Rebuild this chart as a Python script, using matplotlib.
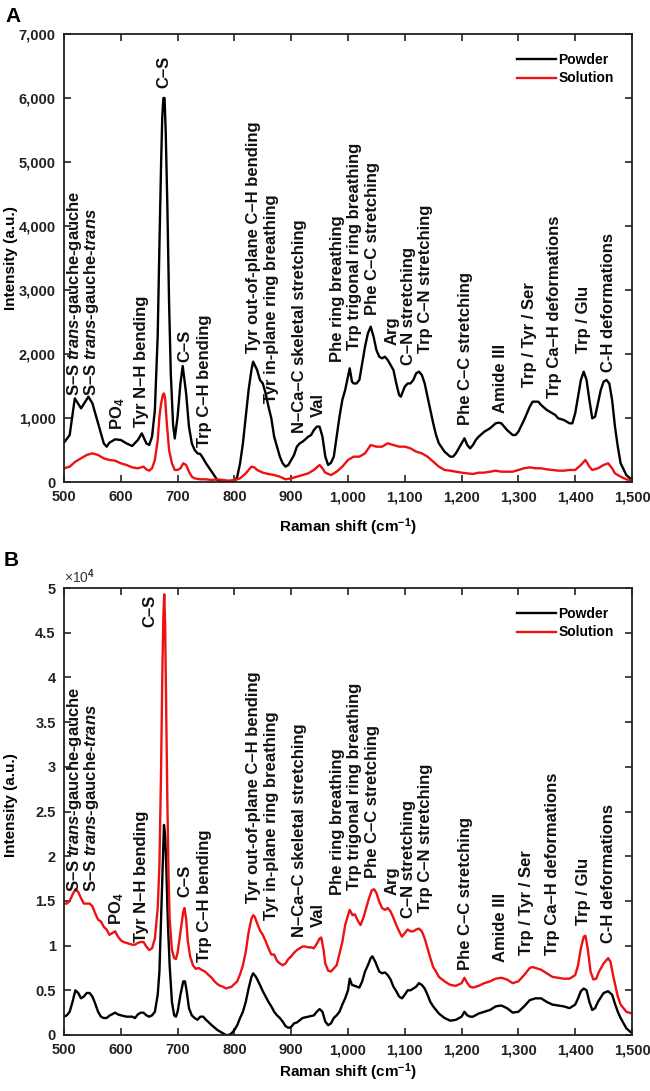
import matplotlib
matplotlib.use('Agg')
import matplotlib.pyplot as plt
from matplotlib.ticker import FuncFormatter

plt.rcParams['font.family'] = ['Liberation Sans', 'DejaVu Sans']
plt.rcParams['mathtext.fontset'] = 'custom'
plt.rcParams['mathtext.rm'] = 'Liberation Sans:bold'
plt.rcParams['mathtext.it'] = 'Liberation Sans:italic:bold'
plt.rcParams['mathtext.bf'] = 'Liberation Sans:bold'

# --- panel A : powder (raw counts) ---
a_powder_x = [500, 510, 519, 530, 543, 550, 560, 570, 575, 580, 590, 600, 610, 620, 630, 637, 645, 650, 655, 660,
              665, 668, 671, 673, 675, 677, 679, 682, 685, 688, 692, 695, 700, 705, 709, 715, 720, 725, 730, 735,
              740, 745, 750, 760, 770, 780, 790, 800, 805, 810, 815, 820, 825, 830, 833, 840, 845, 850, 855, 860,
              865, 870, 875, 880, 885, 890, 895, 900, 905, 910, 915, 920, 925, 930, 935, 940, 945, 950, 955, 960,
              965, 970, 975, 980, 985, 990, 995, 1000, 1003, 1007, 1010, 1015, 1020, 1025, 1030, 1035, 1040, 1045,
              1050, 1055, 1060, 1065, 1070, 1075, 1080, 1085, 1090, 1093, 1100, 1105, 1110, 1115, 1120, 1125, 1130,
              1135, 1140, 1145, 1150, 1155, 1160, 1170, 1180, 1185, 1190, 1195, 1200, 1205, 1210, 1215, 1220, 1225,
              1230, 1240, 1250, 1260, 1265, 1270, 1280, 1290, 1295, 1300, 1310, 1320, 1325, 1330, 1335, 1340, 1350,
              1360, 1365, 1370, 1380, 1390, 1395, 1400, 1405, 1410, 1415, 1420, 1425, 1430, 1435, 1440, 1445, 1450,
              1455, 1460, 1465, 1470, 1475, 1480, 1490, 1500]
a_powder_y = [615, 734, 1307, 1151, 1333, 1230, 917, 604, 552, 615, 667, 656, 604, 562, 656, 760, 604, 578, 708, 1125,
              2300, 3700, 5000, 5700, 6000, 6000, 5500, 4300, 2800, 1700, 900, 680, 1020, 1540, 1812, 1385, 865, 604, 500, 448,
              437, 370, 292, 161, 31, 0, 0, 0, 83, 292, 604, 1020, 1437, 1750, 1880, 1750, 1594, 1540, 1385, 1177,
              995, 708, 552, 396, 292, 240, 266, 344, 422, 552, 604, 630, 667, 708, 734, 812, 865, 865, 708, 400,
              266, 300, 396, 708, 1020, 1281, 1437, 1646, 1776, 1568, 1540, 1540, 1594, 1854, 2115, 2323, 2427, 2271,
              2063, 1958, 1932, 1958, 1906, 1828, 1750, 1540, 1359, 1333, 1490, 1540, 1540, 1594, 1698, 1724, 1672,
              1540, 1333, 1125, 917, 734, 604, 474, 396, 396, 448, 526, 604, 682, 578, 526, 578, 656,
              708, 786, 839, 917, 927, 917, 812, 734, 734, 786, 969, 1177, 1255, 1255, 1255, 1203, 1125,
              1073, 1047, 995, 969, 917, 917, 1073, 1333, 1594, 1724, 1594, 1281, 995, 1020, 1229, 1437, 1568,
              1594, 1540, 1281, 865, 552, 292, 109, 31]

# --- panel A : solution ---
a_solution_x = [500, 510, 520, 530, 540, 550, 560, 570, 580, 590, 600, 610, 620, 630, 640, 645, 650, 655, 660, 665,
                668, 671, 674, 676, 678, 681, 685, 690, 695, 700, 705, 710, 715, 720, 725, 730, 740, 750, 760, 770,
                780, 790, 800, 810, 820, 825, 830, 835, 840, 850, 860, 870, 880, 890, 900, 910, 920, 930, 940, 950,
                955, 960, 970, 980, 990, 1000, 1010, 1020, 1030, 1040, 1050, 1060, 1070, 1080, 1090, 1100, 1110, 1120,
                1130, 1140, 1150, 1160, 1170, 1180, 1190, 1200, 1210, 1220, 1230, 1240, 1250, 1260, 1270, 1280, 1290,
                1300, 1310, 1320, 1330, 1340, 1350, 1360, 1370, 1380, 1390, 1400, 1410, 1418, 1425, 1430, 1440, 1450,
                1458, 1465, 1470, 1480, 1490, 1500]
a_solution_y = [214, 240, 318, 370, 422, 448, 422, 370, 344, 333, 292, 266, 229, 214, 240, 198, 177, 214, 344, 656,
                1020, 1229, 1359, 1385, 1307, 917, 500, 292, 188, 188, 214, 292, 266, 161, 83, 57, 42, 42, 31, 42,
                31, 21, 31, 57, 135, 188, 240, 229, 188, 146, 125, 109, 83, 42, 57, 83, 109, 135, 188, 266,
                214, 146, 109, 161, 240, 344, 396, 396, 448, 578, 552, 552, 604, 578, 552, 552, 526, 474,
                448, 396, 318, 240, 188, 177, 161, 146, 135, 125, 146, 146, 161, 177, 161, 161, 161,
                188, 214, 229, 214, 214, 198, 188, 177, 177, 188, 188, 266, 344, 240, 188, 214, 266,
                292, 214, 135, 83, 42, 21]

# --- panel B : powder (x 10^4) ---
b_powder_x = [500, 505, 510, 515, 520, 525, 530, 535, 540, 545, 550, 555, 560, 565, 570, 575, 580, 590, 595, 600,
              610, 620, 625, 630, 635, 640, 645, 650, 655, 660, 665, 668, 671, 674, 676, 678, 680, 683, 686, 690,
              694, 697, 700, 705, 710, 713, 716, 720, 725, 730, 735, 740, 745, 750, 760, 770, 780, 785, 790, 795,
              800, 805, 810, 815, 820, 825, 830, 833, 838, 845, 850, 855, 860, 865, 870, 875, 880, 885, 890, 895,
              900, 905, 910, 920, 930, 940, 945, 950, 955, 960, 965, 970, 975, 980, 985, 990, 995, 1000, 1003, 1007,
              1012, 1020, 1025, 1030, 1035, 1040, 1043, 1048, 1055, 1060, 1065, 1070, 1075, 1080, 1085, 1090, 1095,
              1100, 1105, 1110, 1120, 1125, 1130, 1135, 1140, 1145, 1150, 1160, 1170, 1180, 1190, 1200, 1205, 1210,
              1215, 1220, 1230, 1240, 1250, 1260, 1270, 1280, 1290, 1300, 1310, 1320, 1330, 1340, 1350, 1360, 1370,
              1380, 1390, 1400, 1405, 1410, 1415, 1420, 1425, 1430, 1435, 1440, 1450, 1458, 1465, 1470, 1475, 1480,
              1490, 1500]
b_powder_y = [0.205, 0.22, 0.26, 0.37, 0.50, 0.47, 0.41, 0.43, 0.47, 0.47, 0.43, 0.35, 0.26, 0.205, 0.19, 0.19, 0.216, 0.25, 0.23, 0.22,
              0.205, 0.205, 0.19, 0.23, 0.25, 0.25, 0.22, 0.205, 0.22, 0.26, 0.45, 0.71, 1.34, 1.98, 2.35, 2.24, 1.90, 1.23, 0.78, 0.37,
              0.22, 0.205, 0.26, 0.45, 0.60, 0.60, 0.49, 0.30, 0.22, 0.19, 0.17, 0.205, 0.205, 0.17, 0.11, 0.056, 0.019, 0.0, 0.0, 0.019,
              0.056, 0.11, 0.19, 0.26, 0.37, 0.52, 0.65, 0.69, 0.65, 0.56, 0.49, 0.43, 0.37, 0.32, 0.26, 0.22, 0.19, 0.15, 0.10, 0.08,
              0.09, 0.13, 0.14, 0.19, 0.205, 0.22, 0.26, 0.29, 0.26, 0.15, 0.11, 0.13, 0.19, 0.22, 0.26, 0.34, 0.41, 0.50, 0.63, 0.56,
              0.55, 0.53, 0.60, 0.71, 0.78, 0.86, 0.88, 0.82, 0.71, 0.69, 0.70, 0.67, 0.62, 0.54, 0.49, 0.43, 0.41,
              0.45, 0.50, 0.50, 0.54, 0.58, 0.56, 0.52, 0.45, 0.37, 0.32, 0.24, 0.19, 0.16, 0.17, 0.205, 0.26, 0.22,
              0.205, 0.205, 0.24, 0.26, 0.28, 0.32, 0.33, 0.30, 0.25, 0.26, 0.32, 0.39, 0.41, 0.41, 0.37, 0.34, 0.33,
              0.32, 0.30, 0.34, 0.41, 0.49, 0.52, 0.50, 0.37, 0.28, 0.30, 0.37, 0.47, 0.49, 0.45, 0.35, 0.26, 0.19,
              0.075, 0.02]

# --- panel B : solution (x 10^4) ---
b_solution_x = [500, 505, 510, 515, 520, 525, 530, 535, 540, 545, 550, 555, 560, 565, 570, 575, 580, 585, 590, 595,
                600, 605, 610, 620, 625, 630, 635, 640, 645, 650, 655, 660, 665, 668, 671, 673, 675, 676.5, 678, 680,
                682, 684, 686, 690, 694, 697, 700, 705, 710, 712, 715, 718, 722, 727, 732, 737, 742, 748, 755, 760,
                765, 770, 775, 780, 785, 790, 795, 800, 805, 810, 815, 820, 825, 830, 833, 836, 840, 845, 850, 855,
                860, 865, 870, 875, 880, 885, 890, 895, 900, 905, 910, 915, 920, 925, 930, 935, 940, 945, 950, 953,
                957, 960, 965, 970, 980, 990, 995, 1000, 1003, 1008, 1012, 1018, 1022, 1027, 1032, 1037, 1042, 1046,
                1050, 1055, 1060, 1065, 1070, 1075, 1080, 1085, 1090, 1095, 1100, 1105, 1110, 1115, 1120, 1125, 1130,
                1135, 1140, 1145, 1150, 1155, 1160, 1170, 1180, 1190, 1200, 1205, 1210, 1215, 1220, 1230, 1240, 1250,
                1260, 1270, 1280, 1290, 1300, 1310, 1320, 1325, 1330, 1340, 1350, 1360, 1370, 1380, 1390, 1400, 1405,
                1410, 1415, 1418, 1422, 1427, 1432, 1437, 1442, 1450, 1458, 1462, 1468, 1475, 1480, 1490, 1500]
b_solution_y = [1.47, 1.47, 1.50, 1.57, 1.63, 1.60, 1.53, 1.47, 1.47, 1.47, 1.44, 1.36, 1.29, 1.27, 1.21, 1.18, 1.12, 1.14, 1.16, 1.10,
                1.06, 1.04, 1.03, 1.01, 1.01, 1.03, 1.04, 1.04, 0.99, 0.95, 0.97, 1.08, 1.42, 1.90, 3.0, 4.0, 4.7, 4.93, 4.6, 3.6,
                2.6, 1.8, 1.3, 0.95, 0.86, 0.85, 0.92, 1.15, 1.38, 1.42, 1.30, 1.05, 0.88, 0.78, 0.74, 0.75, 0.73, 0.71, 0.67, 0.64,
                0.60, 0.57, 0.55, 0.54, 0.52, 0.53, 0.54, 0.57, 0.60, 0.68, 0.78, 0.93, 1.15, 1.30, 1.34, 1.32, 1.25, 1.17, 1.12, 1.05,
                0.97, 0.90, 0.90, 0.83, 0.80, 0.78, 0.80, 0.85, 0.88, 0.92, 0.95, 0.97, 0.99, 0.99, 0.98, 0.98, 0.97, 1.02, 1.08, 1.09,
                0.95, 0.80, 0.72, 0.71, 0.78, 1.04, 1.23, 1.34, 1.40, 1.34, 1.35, 1.27, 1.23, 1.31, 1.42, 1.53, 1.62, 1.63,
                1.59, 1.49, 1.42, 1.40, 1.42, 1.38, 1.31, 1.23, 1.16, 1.10, 1.14, 1.18, 1.16, 1.16, 1.18, 1.19, 1.16,
                1.08, 0.97, 0.86, 0.76, 0.71, 0.65, 0.60, 0.56, 0.55, 0.58, 0.64, 0.58, 0.54, 0.53, 0.55, 0.58, 0.60,
                0.63, 0.64, 0.62, 0.58, 0.60, 0.67, 0.75, 0.76, 0.75, 0.73, 0.69, 0.65, 0.64, 0.63, 0.63, 0.67, 0.78,
                0.97, 1.10, 1.11, 0.97, 0.71, 0.62, 0.63, 0.71, 0.80, 0.86, 0.82, 0.63, 0.43, 0.34, 0.26, 0.24]

# --- band assignments (S-S pair is drawn as one two-line label) ---
SS = 'S–S $\\mathit{trans}$-gauche-gauche\nS–S $\\mathit{trans}$-gauche-$\\mathit{trans}$'
band_labels = [SS, 'PO$_4$', 'Tyr N–H bending', 'C–S', 'C–S', 'Trp C–H bending',
               'Tyr out-of-plane C–H bending', 'Tyr in-plane ring breathing', 'N–Ca–C skeletal stretching', 'Val',
               'Phe ring breathing', 'Trp trigonal ring breathing', 'Phe C–C stretching', 'Arg', 'C–N stretching',
               'Trp C–N stretching', 'Phe C–C stretching', 'Amide III', 'Trp / Tyr / Ser', 'Trp Ca–H deformations',
               'Trp / Glu', 'C-H deformations']
a_band_x = [534, 595, 637, 675, 713, 748, 833, 866, 915, 947, 982, 1012, 1044, 1077, 1106, 1136, 1206, 1268,
            1320, 1364, 1414, 1458]
a_band_y = [1340, 812, 860, 6156, 1875, 547, 2015, 1234, 766, 1016, 1875, 2062, 2609, 2140, 1828, 2015, 890,
            1078, 1484, 1312, 2015, 1718]
b_band_x = [534, 592, 637, 651, 713, 748, 833, 866, 915, 947, 982, 1012, 1044, 1077, 1106, 1136, 1206, 1268,
            1315, 1360, 1414, 1458]
b_band_y = [1.60, 1.23, 1.04, 4.56, 1.54, 0.82, 1.48, 1.29, 1.10, 1.21, 1.57, 1.62, 1.76, 1.57, 1.31, 1.38,
            0.73, 0.82, 0.89, 0.89, 1.23, 1.03]

x_ticks = [500, 600, 700, 800, 900, 1000, 1100, 1200, 1300, 1400, 1500]
a_yticks = [0, 1000, 2000, 3000, 4000, 5000, 6000, 7000]
b_yticks = [0, 0.5, 1, 1.5, 2, 2.5, 3, 3.5, 4, 4.5, 5]

W, H = 650, 1091
fig = plt.figure(figsize=(W / 100, H / 100), dpi=100)


def make_axes(top, bottom):
    ax = fig.add_axes([64 / W, 1 - bottom / H, 568 / W, (bottom - top) / H])
    ax.set_xlim(500, 1500)
    ax.set_xticks(x_ticks)
    ax.xaxis.set_major_formatter(FuncFormatter(lambda v, p: '{:,.0f}'.format(v)))
    ax.tick_params(direction='in', top=True, right=True, length=5, width=1.2, pad=6,
                   labelsize=10.5, colors='#222222')
    for sp in ax.spines.values():
        sp.set_linewidth(1.3)
        sp.set_color('#222222')
    return ax


def draw_panel(ax, px, py, sx, sy, bx, by):
    ax.plot(px, py, color='black', lw=1.7, label='Powder')
    ax.plot(sx, sy, color='#ee1111', lw=1.7, label='Solution')
    for txt, x, y in zip(band_labels, bx, by):
        ax.text(x, y, txt, rotation=90, ha='center', va='bottom', fontsize=12, fontweight='bold',
                color='#111111', linespacing=0.85, multialignment='left')
    ax.legend(loc='upper right', frameon=False, handlelength=2.8, handletextpad=0.15,
              labelspacing=0.3, bbox_to_anchor=(0.99, 0.985), prop={'weight': 'bold', 'size': 10})
    for lab in ax.get_xticklabels() + ax.get_yticklabels():
        lab.set_fontweight('bold')


axA = make_axes(34, 482)
axA.set_ylim(0, 7000)
axA.set_yticks(a_yticks)
axA.yaxis.set_major_formatter(FuncFormatter(lambda v, p: '{:,.0f}'.format(v)))
draw_panel(axA, a_powder_x, a_powder_y, a_solution_x, a_solution_y, a_band_x, a_band_y)

axB = make_axes(588, 1035)
axB.set_ylim(0, 5)
axB.set_yticks(b_yticks)
axB.yaxis.set_major_formatter(FuncFormatter(lambda v, p: '{:g}'.format(v)))
draw_panel(axB, b_powder_x, b_powder_y, b_solution_x, b_solution_y, b_band_x, b_band_y)
axB.text(0.0, 1.005, '×10$^{4}$', transform=axB.transAxes, ha='left', va='bottom', fontsize=10, color='#333333')

for yc in (527, 1072):
    fig.text(348 / W, 1 - yc / H, 'Raman shift (cm$^{-1}$)', ha='center', va='center',
             fontsize=11, fontweight='bold')
for yc in (258, 805):
    fig.text(11 / W, 1 - yc / H, 'Intensity (a.u.)', rotation=90, ha='center', va='center',
             fontsize=11, fontweight='bold')
fig.text(5 / W, 1 - 16 / H, 'A', ha='left', va='center', fontsize=15, fontweight='bold')
fig.text(4 / W, 1 - 560 / H, 'B', ha='left', va='center', fontsize=15, fontweight='bold')

fig.savefig('out.png', dpi=100)
